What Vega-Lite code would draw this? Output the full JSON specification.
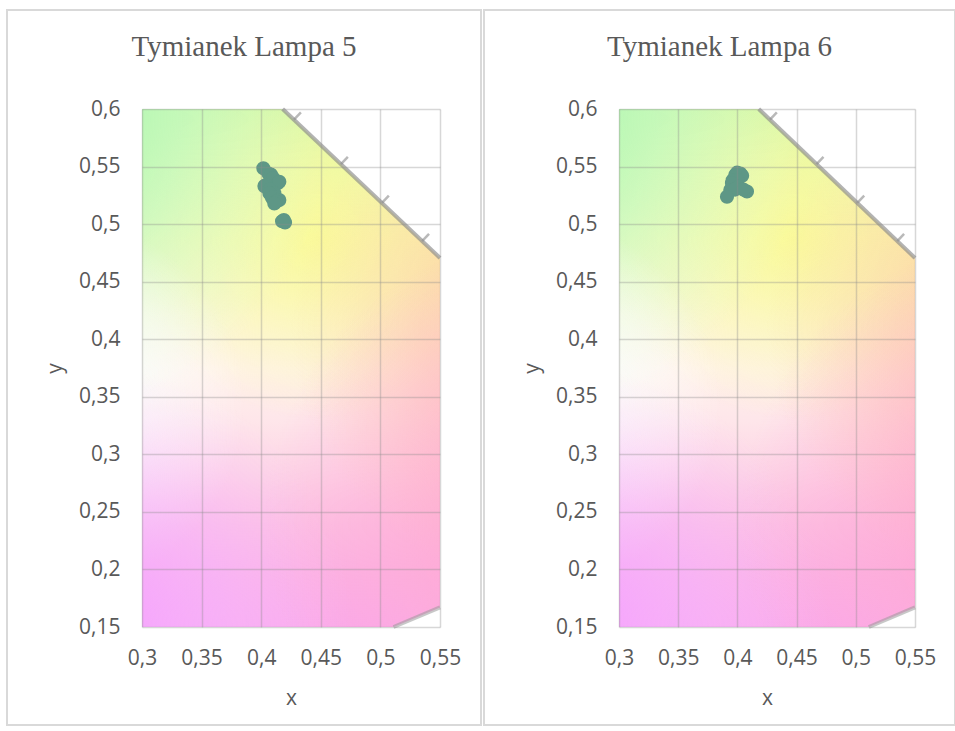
{
  "$schema": "https://vega.github.io/schema/vega-lite/v6.json",
  "padding": {"left": 5, "top": 9, "right": 0, "bottom": 0},
  "spacing": 0,
  "background": "white",
  "datasets": {
    "lampa5": [
      {"x": 0.4018, "y": 0.5485}, {"x": 0.4060, "y": 0.5440}, {"x": 0.4082, "y": 0.5431},
      {"x": 0.4100, "y": 0.5400}, {"x": 0.4138, "y": 0.5355}, {"x": 0.4152, "y": 0.5368},
      {"x": 0.4040, "y": 0.5340}, {"x": 0.4027, "y": 0.5330}, {"x": 0.4070, "y": 0.5300},
      {"x": 0.4110, "y": 0.5268}, {"x": 0.4069, "y": 0.5268}, {"x": 0.4090, "y": 0.5230},
      {"x": 0.4152, "y": 0.5209}, {"x": 0.4124, "y": 0.5195}, {"x": 0.4110, "y": 0.5180},
      {"x": 0.4190, "y": 0.5036}, {"x": 0.4200, "y": 0.5015}, {"x": 0.4175, "y": 0.5025}
    ],
    "lampa6": [
      {"x": 0.3997, "y": 0.5447}, {"x": 0.4025, "y": 0.5440}, {"x": 0.4040, "y": 0.5420},
      {"x": 0.3982, "y": 0.5427}, {"x": 0.3960, "y": 0.5380}, {"x": 0.4000, "y": 0.5380},
      {"x": 0.3954, "y": 0.5355}, {"x": 0.4011, "y": 0.5325}, {"x": 0.3940, "y": 0.5296},
      {"x": 0.3980, "y": 0.5300}, {"x": 0.3912, "y": 0.5238}, {"x": 0.4081, "y": 0.5283},
      {"x": 0.4050, "y": 0.5300}
    ],
    "locus": [{"x": 0.418, "y": 0.6}, {"x": 0.55, "y": 0.4706}],
    "purples": [{"x": 0.511, "y": 0.15}, {"x": 0.55, "y": 0.167}],
    "wavelengthTicks": [
      {"x": 0.4275, "y": 0.5907, "x2": 0.4333, "y2": 0.5970},
      {"x": 0.4669, "y": 0.5521, "x2": 0.4727, "y2": 0.5584},
      {"x": 0.5013, "y": 0.5184, "x2": 0.5071, "y2": 0.5247},
      {"x": 0.5350, "y": 0.4853, "x2": 0.5408, "y2": 0.4916}
    ],
    "one": [{}]
  },
  "hconcat": [
    {
      "width": 298,
      "height": 518,
      "title": {"text": "Tymianek Lampa 5", "offset": -53},
      "layer": [
        {
          "data": {"name": "one"},
          "mark": {"type": "rect", "filled": false, "color": "#d9d9d9", "strokeWidth": 2},
          "encoding": {
            "x": {"datum": 0.18674, "type": "quantitative", "scale": {"domain": [0.3, 0.55], "nice": false, "zero": false}, "axis": {"title": "x", "zindex": 1, "values": [0.3, 0.35, 0.4, 0.45, 0.5, 0.55], "labelExpr": "replace(format(datum.value, '.2~f'), '.', ',')"}},
            "x2": {"datum": 0.5844},
            "y": {"datum": 0.06486, "type": "quantitative", "scale": {"domain": [0.15, 0.6], "nice": false, "zero": false}, "axis": {"title": "y", "zindex": 1, "values": [0.15, 0.2, 0.25, 0.3, 0.35, 0.4, 0.45, 0.5, 0.55, 0.6], "labelExpr": "replace(format(datum.value, '.2~f'), '.', ',')"}},
            "y2": {"datum": 0.686}
          }
        },
        {
          "data": {"name": "one"},
          "mark": {"type": "rect", "color": {"gradient": "linear", "x1": 0, "y1": 0, "x2": 0, "y2": 1, "stops": [
            {"offset": 0, "color": "#d4f6a0"}, {"offset": 0.12, "color": "#e8f8a8"}, {"offset": 0.25, "color": "#f8f8b4"},
            {"offset": 0.4, "color": "#fdf5d8"}, {"offset": 0.5, "color": "#fff2ea"}, {"offset": 0.6, "color": "#fee6ea"},
            {"offset": 0.7, "color": "#fdd4e6"}, {"offset": 0.8, "color": "#fcbee2"}, {"offset": 0.9, "color": "#fbaee4"}, {"offset": 1, "color": "#faa6ea"}]}},
          "encoding": {"x": {"datum": 0.3, "type": "quantitative"}, "x2": {"datum": 0.55}, "y": {"datum": 0.15, "type": "quantitative"}, "y2": {"datum": 0.6}}
        },
        {
          "data": {"name": "one"},
          "mark": {"type": "rect", "color": {"gradient": "radial", "x1": 0.55, "y1": 0.25, "r1": 0, "x2": 0.55, "y2": 0.25, "r2": 0.35, "stops": [
            {"offset": 0, "color": "rgba(250,250,150,0.85)"}, {"offset": 1, "color": "rgba(250,250,170,0)"}]}},
          "encoding": {"x": {"datum": 0.3, "type": "quantitative"}, "x2": {"datum": 0.55}, "y": {"datum": 0.15, "type": "quantitative"}, "y2": {"datum": 0.6}}
        },
        {
          "data": {"name": "one"},
          "mark": {"type": "rect", "color": {"gradient": "radial", "x1": 0, "y1": 0.02, "r1": 0, "x2": 0, "y2": 0.02, "r2": 0.58, "stops": [
            {"offset": 0, "color": "rgba(155,245,165,1)"}, {"offset": 0.5, "color": "rgba(185,250,200,0.6)"}, {"offset": 1, "color": "rgba(210,255,225,0)"}]}},
          "encoding": {"x": {"datum": 0.3, "type": "quantitative"}, "x2": {"datum": 0.55}, "y": {"datum": 0.15, "type": "quantitative"}, "y2": {"datum": 0.6}}
        },
        {
          "data": {"name": "one"},
          "mark": {"type": "rect", "color": {"gradient": "radial", "x1": 0.05, "y1": 0.57, "r1": 0, "x2": 0.05, "y2": 0.57, "r2": 0.36, "stops": [
            {"offset": 0, "color": "rgba(240,255,253,1)"}, {"offset": 0.5, "color": "rgba(250,255,253,0.65)"}, {"offset": 1, "color": "rgba(255,255,255,0)"}]}},
          "encoding": {"x": {"datum": 0.3, "type": "quantitative"}, "x2": {"datum": 0.55}, "y": {"datum": 0.15, "type": "quantitative"}, "y2": {"datum": 0.6}}
        },
        {
          "data": {"name": "one"},
          "mark": {"type": "rect", "color": {"gradient": "radial", "x1": 0.12, "y1": 1, "r1": 0, "x2": 0.12, "y2": 1, "r2": 0.5, "stops": [
            {"offset": 0, "color": "rgba(245,160,255,1)"}, {"offset": 0.5, "color": "rgba(246,182,255,0.6)"}, {"offset": 1, "color": "rgba(250,205,255,0)"}]}},
          "encoding": {"x": {"datum": 0.3, "type": "quantitative"}, "x2": {"datum": 0.55}, "y": {"datum": 0.15, "type": "quantitative"}, "y2": {"datum": 0.6}}
        },
        {
          "data": {"name": "one"},
          "mark": {"type": "rect", "color": {"gradient": "radial", "x1": 1, "y1": 0.42, "r1": 0, "x2": 1, "y2": 0.42, "r2": 0.5, "stops": [
            {"offset": 0, "color": "rgba(253,200,148,1)"}, {"offset": 0.5, "color": "rgba(253,208,160,0.6)"}, {"offset": 1, "color": "rgba(253,215,170,0)"}]}},
          "encoding": {"x": {"datum": 0.3, "type": "quantitative"}, "x2": {"datum": 0.55}, "y": {"datum": 0.15, "type": "quantitative"}, "y2": {"datum": 0.6}}
        },
        {
          "data": {"name": "one"},
          "mark": {"type": "rect", "color": {"gradient": "radial", "x1": 1, "y1": 0.8, "r1": 0, "x2": 1, "y2": 0.8, "r2": 0.55, "stops": [
            {"offset": 0, "color": "rgba(255,160,205,1)"}, {"offset": 0.5, "color": "rgba(255,172,212,0.6)"}, {"offset": 1, "color": "rgba(255,180,220,0)"}]}},
          "encoding": {"x": {"datum": 0.3, "type": "quantitative"}, "x2": {"datum": 0.55}, "y": {"datum": 0.15, "type": "quantitative"}, "y2": {"datum": 0.6}}
        },
        {
          "data": {"name": "locus"},
          "mark": {"type": "area", "color": "white"},
          "encoding": {"x": {"field": "x", "type": "quantitative"}, "y": {"field": "y", "type": "quantitative"}, "y2": {"datum": 0.6}}
        },
        {
          "data": {"name": "purples"},
          "mark": {"type": "area", "color": "white"},
          "encoding": {"x": {"field": "x", "type": "quantitative"}, "y": {"field": "y", "type": "quantitative"}, "y2": {"datum": 0.15}}
        },
        {
          "data": {"name": "locus"},
          "mark": {"type": "line", "color": "#8a8a8a", "strokeWidth": 4, "opacity": 0.65},
          "encoding": {"x": {"field": "x", "type": "quantitative"}, "y": {"field": "y", "type": "quantitative"}}
        },
        {
          "data": {"name": "purples"},
          "mark": {"type": "line", "color": "#9a9a9a", "strokeWidth": 4, "opacity": 0.55},
          "encoding": {"x": {"field": "x", "type": "quantitative"}, "y": {"field": "y", "type": "quantitative"}}
        },
        {
          "data": {"name": "wavelengthTicks"},
          "mark": {"type": "rule", "color": "#8a8a8a", "strokeWidth": 2.5, "opacity": 0.6},
          "encoding": {"x": {"field": "x", "type": "quantitative"}, "y": {"field": "y", "type": "quantitative"}, "x2": {"field": "x2"}, "y2": {"field": "y2"}}
        },
        {
          "data": {"name": "lampa5"},
          "mark": {"type": "circle", "size": 200, "color": "#5e9786", "opacity": 1},
          "encoding": {"x": {"field": "x", "type": "quantitative"}, "y": {"field": "y", "type": "quantitative"}}
        }
      ]
    },
    {
      "width": 296,
      "height": 518,
      "title": {"text": "Tymianek Lampa 6", "offset": -53},
      "layer": [
        {
          "data": {"name": "one"},
          "mark": {"type": "rect", "filled": false, "color": "#d9d9d9", "strokeWidth": 2},
          "encoding": {
            "x": {"datum": 0.18598, "type": "quantitative", "scale": {"domain": [0.3, 0.55], "nice": false, "zero": false}, "axis": {"title": "x", "zindex": 1, "values": [0.3, 0.35, 0.4, 0.45, 0.5, 0.55], "labelExpr": "replace(format(datum.value, '.2~f'), '.', ',')"}},
            "x2": {"datum": 0.58378},
            "y": {"datum": 0.06486, "type": "quantitative", "scale": {"domain": [0.15, 0.6], "nice": false, "zero": false}, "axis": {"title": "y", "zindex": 1, "values": [0.15, 0.2, 0.25, 0.3, 0.35, 0.4, 0.45, 0.5, 0.55, 0.6], "labelExpr": "replace(format(datum.value, '.2~f'), '.', ',')"}},
            "y2": {"datum": 0.686}
          }
        },
        {
          "data": {"name": "one"},
          "mark": {"type": "rect", "color": {"gradient": "linear", "x1": 0, "y1": 0, "x2": 0, "y2": 1, "stops": [
            {"offset": 0, "color": "#d4f6a0"}, {"offset": 0.12, "color": "#e8f8a8"}, {"offset": 0.25, "color": "#f8f8b4"},
            {"offset": 0.4, "color": "#fdf5d8"}, {"offset": 0.5, "color": "#fff2ea"}, {"offset": 0.6, "color": "#fee6ea"},
            {"offset": 0.7, "color": "#fdd4e6"}, {"offset": 0.8, "color": "#fcbee2"}, {"offset": 0.9, "color": "#fbaee4"}, {"offset": 1, "color": "#faa6ea"}]}},
          "encoding": {"x": {"datum": 0.3, "type": "quantitative"}, "x2": {"datum": 0.55}, "y": {"datum": 0.15, "type": "quantitative"}, "y2": {"datum": 0.6}}
        },
        {
          "data": {"name": "one"},
          "mark": {"type": "rect", "color": {"gradient": "radial", "x1": 0.55, "y1": 0.25, "r1": 0, "x2": 0.55, "y2": 0.25, "r2": 0.35, "stops": [
            {"offset": 0, "color": "rgba(250,250,150,0.85)"}, {"offset": 1, "color": "rgba(250,250,170,0)"}]}},
          "encoding": {"x": {"datum": 0.3, "type": "quantitative"}, "x2": {"datum": 0.55}, "y": {"datum": 0.15, "type": "quantitative"}, "y2": {"datum": 0.6}}
        },
        {
          "data": {"name": "one"},
          "mark": {"type": "rect", "color": {"gradient": "radial", "x1": 0, "y1": 0.02, "r1": 0, "x2": 0, "y2": 0.02, "r2": 0.58, "stops": [
            {"offset": 0, "color": "rgba(155,245,165,1)"}, {"offset": 0.5, "color": "rgba(185,250,200,0.6)"}, {"offset": 1, "color": "rgba(210,255,225,0)"}]}},
          "encoding": {"x": {"datum": 0.3, "type": "quantitative"}, "x2": {"datum": 0.55}, "y": {"datum": 0.15, "type": "quantitative"}, "y2": {"datum": 0.6}}
        },
        {
          "data": {"name": "one"},
          "mark": {"type": "rect", "color": {"gradient": "radial", "x1": 0.05, "y1": 0.57, "r1": 0, "x2": 0.05, "y2": 0.57, "r2": 0.36, "stops": [
            {"offset": 0, "color": "rgba(240,255,253,1)"}, {"offset": 0.5, "color": "rgba(250,255,253,0.65)"}, {"offset": 1, "color": "rgba(255,255,255,0)"}]}},
          "encoding": {"x": {"datum": 0.3, "type": "quantitative"}, "x2": {"datum": 0.55}, "y": {"datum": 0.15, "type": "quantitative"}, "y2": {"datum": 0.6}}
        },
        {
          "data": {"name": "one"},
          "mark": {"type": "rect", "color": {"gradient": "radial", "x1": 0.12, "y1": 1, "r1": 0, "x2": 0.12, "y2": 1, "r2": 0.5, "stops": [
            {"offset": 0, "color": "rgba(245,160,255,1)"}, {"offset": 0.5, "color": "rgba(246,182,255,0.6)"}, {"offset": 1, "color": "rgba(250,205,255,0)"}]}},
          "encoding": {"x": {"datum": 0.3, "type": "quantitative"}, "x2": {"datum": 0.55}, "y": {"datum": 0.15, "type": "quantitative"}, "y2": {"datum": 0.6}}
        },
        {
          "data": {"name": "one"},
          "mark": {"type": "rect", "color": {"gradient": "radial", "x1": 1, "y1": 0.42, "r1": 0, "x2": 1, "y2": 0.42, "r2": 0.5, "stops": [
            {"offset": 0, "color": "rgba(253,200,148,1)"}, {"offset": 0.5, "color": "rgba(253,208,160,0.6)"}, {"offset": 1, "color": "rgba(253,215,170,0)"}]}},
          "encoding": {"x": {"datum": 0.3, "type": "quantitative"}, "x2": {"datum": 0.55}, "y": {"datum": 0.15, "type": "quantitative"}, "y2": {"datum": 0.6}}
        },
        {
          "data": {"name": "one"},
          "mark": {"type": "rect", "color": {"gradient": "radial", "x1": 1, "y1": 0.8, "r1": 0, "x2": 1, "y2": 0.8, "r2": 0.55, "stops": [
            {"offset": 0, "color": "rgba(255,160,205,1)"}, {"offset": 0.5, "color": "rgba(255,172,212,0.6)"}, {"offset": 1, "color": "rgba(255,180,220,0)"}]}},
          "encoding": {"x": {"datum": 0.3, "type": "quantitative"}, "x2": {"datum": 0.55}, "y": {"datum": 0.15, "type": "quantitative"}, "y2": {"datum": 0.6}}
        },
        {
          "data": {"name": "locus"},
          "mark": {"type": "area", "color": "white"},
          "encoding": {"x": {"field": "x", "type": "quantitative"}, "y": {"field": "y", "type": "quantitative"}, "y2": {"datum": 0.6}}
        },
        {
          "data": {"name": "purples"},
          "mark": {"type": "area", "color": "white"},
          "encoding": {"x": {"field": "x", "type": "quantitative"}, "y": {"field": "y", "type": "quantitative"}, "y2": {"datum": 0.15}}
        },
        {
          "data": {"name": "locus"},
          "mark": {"type": "line", "color": "#8a8a8a", "strokeWidth": 4, "opacity": 0.65},
          "encoding": {"x": {"field": "x", "type": "quantitative"}, "y": {"field": "y", "type": "quantitative"}}
        },
        {
          "data": {"name": "purples"},
          "mark": {"type": "line", "color": "#9a9a9a", "strokeWidth": 4, "opacity": 0.55},
          "encoding": {"x": {"field": "x", "type": "quantitative"}, "y": {"field": "y", "type": "quantitative"}}
        },
        {
          "data": {"name": "wavelengthTicks"},
          "mark": {"type": "rule", "color": "#8a8a8a", "strokeWidth": 2.5, "opacity": 0.6},
          "encoding": {"x": {"field": "x", "type": "quantitative"}, "y": {"field": "y", "type": "quantitative"}, "x2": {"field": "x2"}, "y2": {"field": "y2"}}
        },
        {
          "data": {"name": "lampa6"},
          "mark": {"type": "circle", "size": 200, "color": "#5e9786", "opacity": 1},
          "encoding": {"x": {"field": "x", "type": "quantitative"}, "y": {"field": "y", "type": "quantitative"}}
        }
      ]
    }
  ],
  "config": {
    "view": {"stroke": null},
    "title": {"font": "Liberation Serif", "fontSize": 29, "fontWeight": "normal", "color": "#595959", "anchor": "middle", "frame": "bounds"},
    "axis": {
      "labelFont": "Open Sans", "labelFontSize": 21, "labelColor": "#595959", "labelFlush": false, "labelOverlap": false,
      "titleFont": "Open Sans", "titleFontSize": 21, "titleColor": "#595959", "titleFontWeight": "normal",
      "grid": true, "gridColor": "#8c8c8c", "gridOpacity": 0.35, "gridWidth": 1.5,
      "domain": false, "ticks": false
    },
    "axisX": {"labelPadding": 20, "titlePadding": 19},
    "axisY": {"labelPadding": 22, "titlePadding": 13}
  }
}
